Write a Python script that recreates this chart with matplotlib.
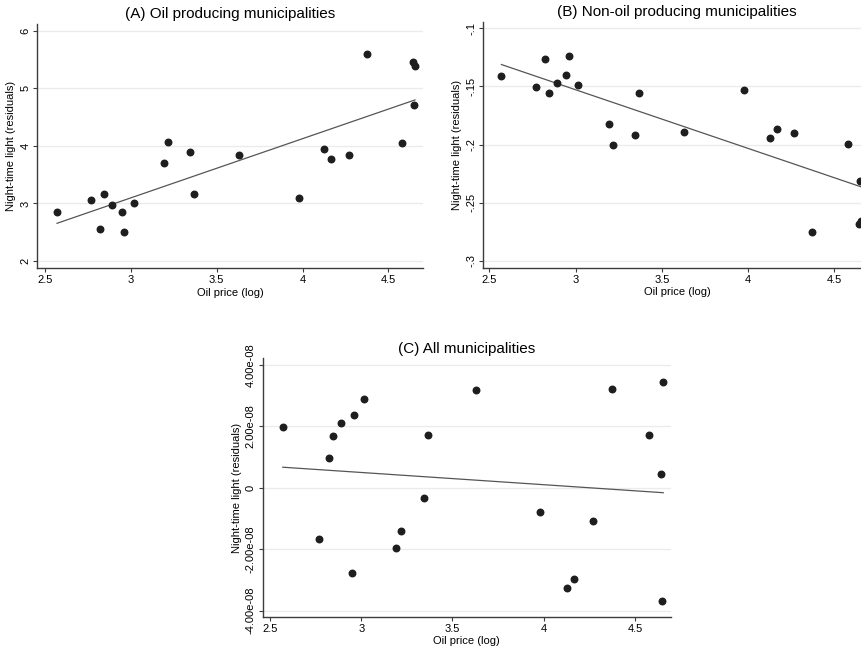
import numpy as np
import matplotlib
matplotlib.use('Agg')
import matplotlib.pyplot as plt

plt.rcParams['font.family'] = ['Liberation Sans', 'DejaVu Sans']

# log oil price, one value per year (shared by the three panels)
oil_price = [2.570, 2.768, 2.821, 2.845, 2.890, 2.947, 2.959, 3.016, 3.192, 3.218, 3.342,
             3.365, 3.631, 3.978, 4.126, 4.166, 4.268, 4.373, 4.577, 4.645, 4.648, 4.655]

# night-time light residuals
light_a = [2.857, 3.055, 2.557, 3.165, 2.974, 2.847, 2.51, 3.01, 3.71, 4.06, 3.90,
           3.16, 3.85, 3.095, 3.94, 3.78, 3.85, 5.595, 4.045, 5.455, 4.705, 5.387]
light_b = [-0.1413, -0.1508, -0.1264, -0.156, -0.1468, -0.1405, -0.1238, -0.1485, -0.1826,
           -0.2004, -0.1921, -0.156, -0.1895, -0.1531, -0.1941, -0.1864, -0.1898, -0.2756,
           -0.1996, -0.2687, -0.2314, -0.2656]
light_c = [1.99, -1.68, 0.98, 1.70, 2.10, -2.79, 2.37, 2.89, -1.97, -1.42, -0.34,
           1.73, 3.19, -0.78, -3.26, -2.97, -1.08, 3.22, 1.71, 0.44, -3.68, 3.44]  # x 1e-8

titles = ['(A) Oil producing municipalities', '(B) Non-oil producing municipalities',
          '(C) All municipalities']

xticks = [2.5, 3, 3.5, 4, 4.5]
xtick_labels = ['2.5', '3', '3.5', '4', '4.5']
yticks_a = [2, 3, 4, 5, 6]
ytick_labels_a = ['2', '3', '4', '5', '6']
yticks_b = [-0.3, -0.25, -0.2, -0.15, -0.1]
ytick_labels_b = ['-.3', '-.25', '-.2', '-.15', '-.1']
yticks_c = [-4, -2, 0, 2, 4]
ytick_labels_c = ['-4.00e-08', '-2.00e-08', '0', '2.00e-08', '4.00e-08']

W, H = 862, 656
fig = plt.figure(figsize=(W / 100, H / 100), dpi=100)

def px_axes(left, top, right, bottom):
    # axes from pixel box
    return fig.add_axes([left / W, 1 - bottom / H, (right - left) / W, (bottom - top) / H])

def panel(ax, y, title, yticks, ylabels, xlim, ylim):
    x = np.array(oil_price)
    y = np.array(y)
    for t in yticks:
        ax.axhline(t, color='#ebebeb', lw=1.0, zorder=0)
    ax.scatter(x, y, s=22, color='#1e1e1e', zorder=3, clip_on=True)
    k, b = np.polyfit(x, y, 1)
    xs = np.array([x.min(), x.max()])
    ax.plot(xs, k * xs + b, color='#555555', lw=0.9, zorder=2)
    ax.set_xlim(xlim)
    ax.set_ylim(ylim)
    ax.set_xticks(xticks)
    ax.set_xticklabels(xtick_labels)
    ax.set_yticks(yticks)
    ax.set_yticklabels(ylabels, rotation=90, va='center')
    for s in ['top', 'right']:
        ax.spines[s].set_visible(False)
    for s in ['left', 'bottom']:
        ax.spines[s].set_color('#3c3c3c')
        ax.spines[s].set_linewidth(1.0)
    ax.tick_params(length=3, width=0.8, color='#3c3c3c', labelsize=8, pad=2)
    ax.set_xlabel('Oil price (log)', fontsize=8, labelpad=2)
    ax.set_ylabel('Night-time light (residuals)', fontsize=8, labelpad=3)
    ax.set_title(title, fontsize=11, pad=4)

ax1 = px_axes(37.3, 24, 422.7, 268.3)
panel(ax1, light_a, titles[0], yticks_a, ytick_labels_a, (2.455, 4.70), (1.875, 6.116))

ax2 = px_axes(483.3, 21.7, 870.5, 267.7)
panel(ax2, light_b, titles[1], yticks_b, ytick_labels_b, (2.465, 4.71), (-0.306, -0.0943))

ax3 = px_axes(262.7, 358.3, 670.7, 616.7)
panel(ax3, light_c, titles[2], yticks_c, ytick_labels_c, (2.46, 4.696), (-4.20, 4.218))

fig.savefig('out.png', dpi=100)
